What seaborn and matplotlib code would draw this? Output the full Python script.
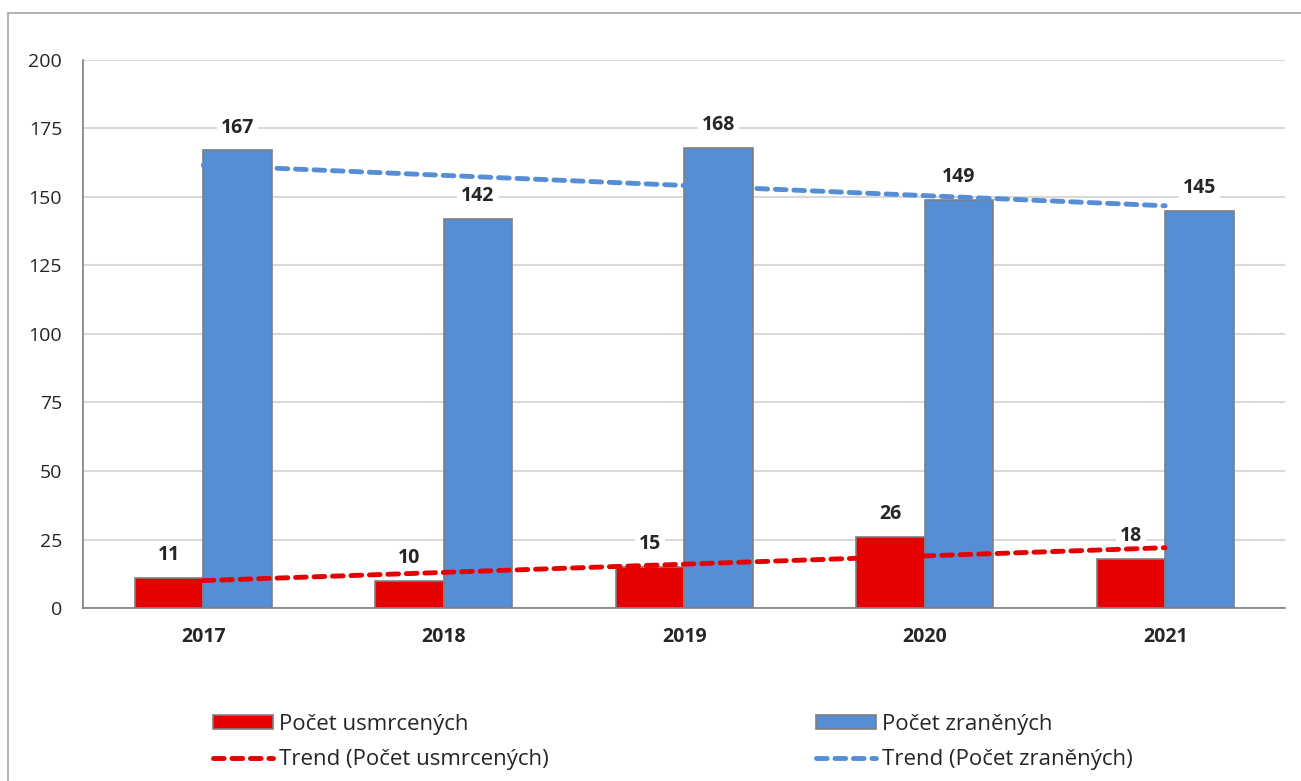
import matplotlib.pyplot as plt
import matplotlib.patches as mpatches
from matplotlib.lines import Line2D
import seaborn as sns
import pandas as pd
import numpy as np

# data
years = ['2017', '2018', '2019', '2020', '2021']
killed = [11, 10, 15, 26, 18]
injured = [167, 142, 168, 149, 145]
label_killed = 'Počet usmrcených'
label_injured = 'Počet zraněných'

red = '#e60000'
blue = '#558ed5'
edge = '#7f7f7f'

df = pd.DataFrame({
    'year': years * 2,
    'value': killed + injured,
    'series': [label_killed] * len(years) + [label_injured] * len(years),
})

sns.set_style('white')
plt.rcParams['font.family'] = ['Open Sans', 'DejaVu Sans']

fig = plt.figure(figsize=(13.01, 7.81), dpi=100)
ax = fig.add_axes([0.0638, 0.2215, 0.9242, 0.7017])

sns.barplot(data=df, x='year', y='value', hue='series', palette=[red, blue],
            width=0.57, edgecolor=edge, linewidth=1.2, saturation=1,
            legend=False, ax=ax, zorder=2)

# data labels with white background
for cont in ax.containers:
    ax.bar_label(cont, padding=9, fontsize=14, fontweight='bold',
                 bbox=dict(facecolor='white', edgecolor='none', pad=3))

# linear trend lines
xs = np.arange(len(years))
for vals, col in [(killed, red), (injured, blue)]:
    k, q = np.polyfit(xs, vals, 1)
    ax.plot(xs, k * xs + q, color=col, lw=3.5, ls=(0, (2.2, 1.6)),
            dash_capstyle='round', zorder=3)

ax.set_ylim(0, 200)
ax.set_xlim(-0.5, len(years) - 0.5)
ax.set_yticks(range(0, 201, 25))
ax.yaxis.grid(True, color='#d9d9d9', lw=1.5, zorder=0)
ax.set_axisbelow(True)
ax.set_xlabel('')
ax.set_ylabel('')

for s in ['top', 'right']:
    ax.spines[s].set_visible(False)
for s in ['left', 'bottom']:
    ax.spines[s].set_color(edge)
    ax.spines[s].set_linewidth(1.2)

ax.tick_params(axis='y', length=5, color=edge, width=1.2, labelsize=14, pad=10)
ax.tick_params(axis='x', which='major', length=0, labelsize=14, pad=14)
ax.set_xticks(np.arange(-0.5, len(years)), minor=True)
ax.tick_params(axis='x', which='minor', length=6, color=edge, width=1.2)
for t in ax.get_xticklabels():
    t.set_fontweight('bold')

handles = [
    mpatches.Patch(facecolor=red, edgecolor=edge, lw=1.2, label=label_killed),
    Line2D([], [], color=red, lw=3.5, ls=(0, (2.2, 1.6)), dash_capstyle='round',
           label='Trend (' + label_killed + ')'),
    mpatches.Patch(facecolor=blue, edgecolor=edge, lw=1.2, label=label_injured),
    Line2D([], [], color=blue, lw=3.5, ls=(0, (2.2, 1.6)), dash_capstyle='round',
           label='Trend (' + label_injured + ')'),
]
fig.legend(handles=handles, ncol=2, loc='center', bbox_to_anchor=(0.5172, 0.05),
           frameon=False, fontsize=16, handlelength=2.7, handleheight=0.55,
           handletextpad=0.3, columnspacing=12.0, labelspacing=0.65)

# outer chart border (right and bottom edges fall outside the picture)
fig.add_artist(mpatches.Rectangle((0.006, -0.01), 1.0, 0.9934, transform=fig.transFigure,
                                  fill=False, edgecolor='#a6a6a6', lw=1.2))

fig.savefig('out.png', dpi=100)
